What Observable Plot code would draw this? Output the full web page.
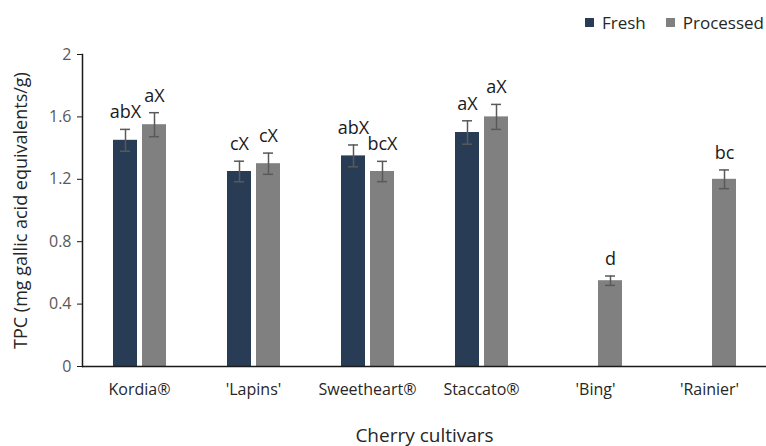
<!DOCTYPE html>
<html>
<head>
<meta charset="utf-8">
<script src="https://cdn.jsdelivr.net/npm/d3@7"></script>
<script src="https://cdn.jsdelivr.net/npm/@observablehq/plot@0.6"></script>
<style>
  html, body { margin: 0; padding: 0; background: #fff; }
  #wrap { position: relative; width: 766px; height: 446px; font-family: "Open Sans", sans-serif; }
  #legend { position: absolute; top: 11px; right: 2px; display: flex; align-items: center; font-size: 17px; color: #262626; }
  #legend .sw { width: 9px; height: 9px; display: inline-block; margin-right: 8px; }
  #legend .item { display: flex; align-items: center; margin-left: 20px; }
</style>
</head>
<body>
<div id="wrap"><div id="legend"></div></div>
<script>
const cultivars = ["Kordia®", "'Lapins'", "Sweetheart®", "Staccato®", "'Bing'", "'Rainier'"];
const series = ["Fresh", "Processed"];
const seriesColors = ["#283c55", "#808080"];
const freshValues = [1.45, 1.25, 1.35, 1.50, null, null];
const freshErrors = [0.07, 0.066, 0.07, 0.075, null, null];
const freshLabels = ["abX", "cX", "abX", "aX", null, null];
const processedValues = [1.55, 1.30, 1.25, 1.60, 0.55, 1.20];
const processedErrors = [0.077, 0.068, 0.065, 0.08, 0.03, 0.06];
const processedLabels = ["aX", "cX", "bcX", "aX", "d", "bc"];
const yTicks = [0, 0.4, 0.8, 1.2, 1.6, 2];

const rows = [];
cultivars.forEach((c, i) => {
  if (freshValues[i] != null) rows.push({cultivar: c, series: "Fresh", value: freshValues[i], err: freshErrors[i], label: freshLabels[i]});
  if (processedValues[i] != null) rows.push({cultivar: c, series: "Processed", value: processedValues[i], err: processedErrors[i], label: processedLabels[i]});
});

const chart = Plot.plot({
  width: 766,
  height: 446,
  marginLeft: 82,
  marginRight: 0,
  marginTop: 54,
  marginBottom: 80,
  style: {fontFamily: "'Open Sans', sans-serif", fontSize: "16px", background: "transparent", overflow: "visible"},
  fx: {domain: cultivars, padding: 0},
  x: {domain: series, paddingInner: 5 / 29, paddingOuter: 1.04, axis: null},
  y: {domain: [0, 2]},
  color: {domain: series, range: seriesColors},
  marks: [
    Plot.barY(rows, {fx: "cultivar", x: "series", y: "value", fill: "series"}),
    Plot.ruleX(rows, {fx: "cultivar", x: "series", y1: d => d.value - d.err, y2: d => d.value + d.err, stroke: "#595959", strokeWidth: 1.5}),
    Plot.tickY(rows, {fx: "cultivar", x: "series", y: d => d.value + d.err, stroke: "#595959", strokeWidth: 1.5, insetLeft: 7, insetRight: 7}),
    Plot.tickY(rows, {fx: "cultivar", x: "series", y: d => d.value - d.err, stroke: "#595959", strokeWidth: 1.5, insetLeft: 7, insetRight: 7}),
    Plot.text(rows, {fx: "cultivar", x: "series", y: d => d.value + d.err, text: "label", dy: -11, lineAnchor: "bottom", fontSize: 18, fill: "#1a1a1a"}),
    Plot.ruleY([0], {stroke: "#1a1a1a", strokeWidth: 1.5}),
    Plot.frame({anchor: "left", facetAnchor: "left", stroke: "#1a1a1a", strokeWidth: 1.5}),
    Plot.axisY({ticks: yTicks, tickFormat: d => String(d), tickSize: 5, tickPadding: 6, stroke: "#1a1a1a", color: "#595959", fontSize: 16, label: null}),
    Plot.axisY({ticks: [], label: "TPC (mg gallic acid equivalents/g)", labelAnchor: "center", labelArrow: "none", labelOffset: 68, fontSize: 18, color: "#262626"}),
    Plot.axisFx({anchor: "bottom", tickSize: 0, tickPadding: 17, fontSize: 16, color: "#262626", label: null}),
    Plot.axisFx({anchor: "bottom", ticks: [], label: "Cherry cultivars", labelAnchor: "center", labelArrow: "none", labelOffset: 75, fontSize: 19, color: "#262626"})
  ]
});
document.getElementById("wrap").appendChild(chart);

const legend = document.getElementById("legend");
series.forEach((s, i) => {
  const item = document.createElement("span");
  item.className = "item";
  const sw = document.createElement("span");
  sw.className = "sw";
  sw.style.background = seriesColors[i];
  item.appendChild(sw);
  item.appendChild(document.createTextNode(s));
  legend.appendChild(item);
});
</script>
</body>
</html>
